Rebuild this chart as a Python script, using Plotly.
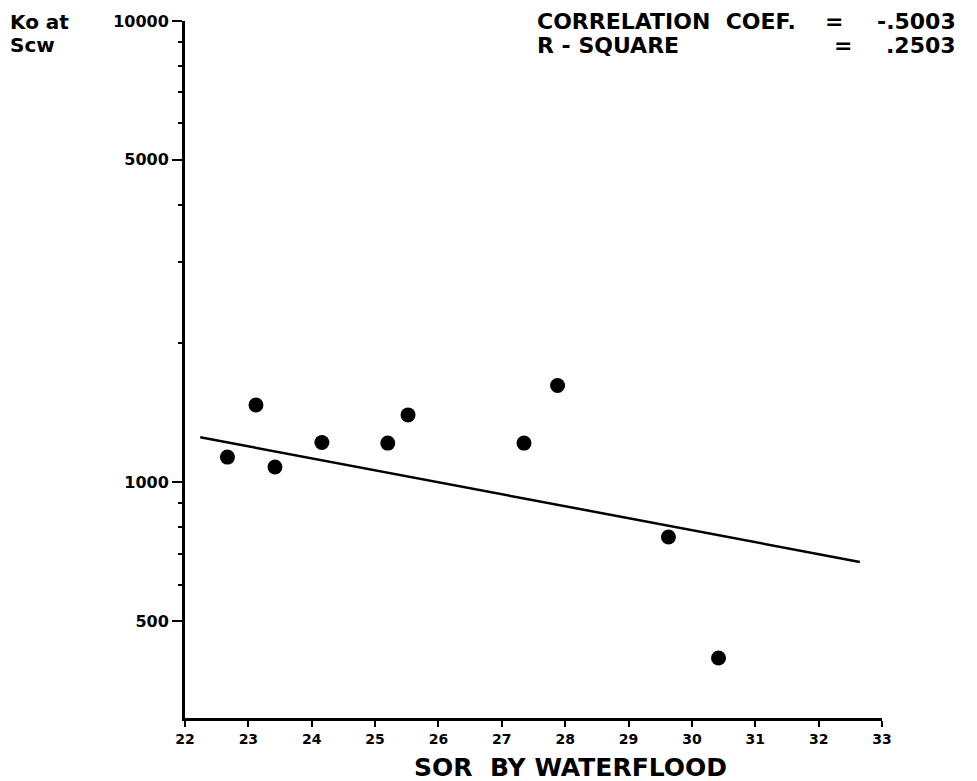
import plotly.graph_objects as go

# Data
sor = [22.67, 23.12, 23.42, 24.16, 25.20, 25.52, 27.35, 27.88, 29.63, 30.42]
ko = [1134, 1471, 1079, 1220, 1216, 1400, 1216, 1621, 761, 416]

fit_x = [22.24, 32.65]
fit_y = [1252, 672]

x_ticks = list(range(22, 34))
y_major = [500, 1000, 5000, 10000]
y_major_labels = ["500", "1000", "5000", "10000"]
y_minor = [600, 700, 800, 900, 2000, 3000, 4000, 6000, 7000, 8000, 9000]

FONT = "DejaVu Sans"
L, R, T, B = 185, 95, 16, 63
W, H = 977, 781

fig = go.Figure()
fig.add_trace(go.Scatter(x=fit_x, y=fit_y, mode="lines",
                         line=dict(color="black", width=2.5),
                         showlegend=False, hoverinfo="skip"))
fig.add_trace(go.Scatter(x=sor, y=ko, mode="markers",
                         marker=dict(color="black", size=15),
                         showlegend=False))

fig.update_layout(
    width=W, height=H,
    margin=dict(l=L, r=R, t=T, b=B),
    paper_bgcolor="white", plot_bgcolor="white",
    font=dict(family=FONT, color="black"),
    xaxis=dict(
        range=[22, 33], tickvals=x_ticks, ticktext=[str(v) for v in x_ticks],
        showgrid=False, zeroline=False,
        showline=True, linecolor="black", linewidth=3,
        ticks="outside", ticklen=6, tickwidth=2, tickcolor="black",
        tickfont=dict(family=FONT, size=14, weight="bold"),
    ),
    yaxis=dict(
        type="log", range=[2.489, 4.0],
        tickvals=y_major, ticktext=y_major_labels,
        showgrid=False, zeroline=False,
        showline=True, linecolor="black", linewidth=3,
        ticks="outside", ticklen=10, tickwidth=2, tickcolor="black",
        tickfont=dict(family=FONT, size=16, weight="bold"),
        minor=dict(tickvals=y_minor, ticks="outside", ticklen=4,
                   tickwidth=2, tickcolor="black", showgrid=False),
    ),
)

ann = [
    dict(text="<b>Ko at</b>", x=8, y=17, xanchor="left", size=20),
    dict(text="<b>Scw</b>", x=8, y=40, xanchor="left", size=20),
    dict(text="<b>CORRELATION  COEF.</b>", x=535, y=17, xanchor="left", size=22),
    dict(text="<b>=</b>", x=834, y=17, xanchor="center", size=22),
    dict(text="<b>-.5003</b>", x=958, y=17, xanchor="right", size=22),
    dict(text="<b>R - SQUARE</b>", x=535, y=41, xanchor="left", size=22),
    dict(text="<b>=</b>", x=843, y=41, xanchor="center", size=22),
    dict(text="<b>.2503</b>", x=958, y=41, xanchor="right", size=22),
    dict(text="<b>SOR  BY WATERFLOOD</b>", x=570, y=768, xanchor="center", size=25),
]
for a in ann:
    fig.add_annotation(
        text=a["text"], xref="paper", yref="paper",
        x=(a["x"] - L) / (W - L - R),
        y=1 - (a["y"] - T) / (H - T - B),
        xanchor=a["xanchor"], yanchor="middle",
        showarrow=False, font=dict(family=FONT, size=a["size"], color="black"),
    )

fig.write_html("out.html")
